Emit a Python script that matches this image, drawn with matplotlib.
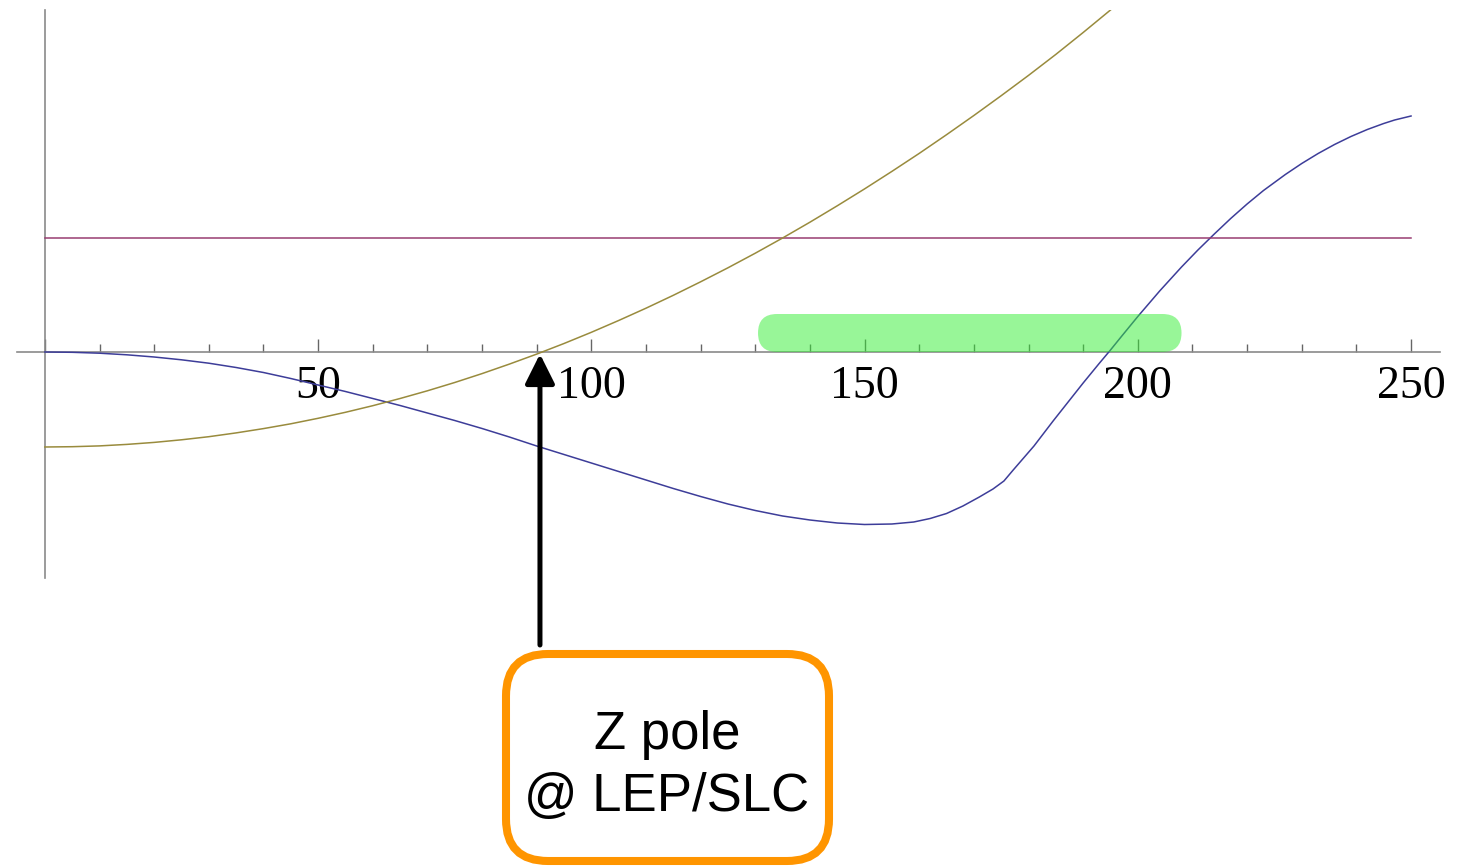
import numpy as np
import matplotlib.pyplot as plt
import matplotlib.patches as mpatches
from matplotlib.transforms import IdentityTransform

# energy (GeV) axis samples
x_blue = [0, 5, 10, 15, 20, 25, 30, 35, 40, 45, 50, 55, 60, 65, 70, 75, 80,
          85, 90, 95, 100, 105, 110, 115, 120, 125, 130, 135, 140, 145, 150,
          155, 159, 162, 165, 168, 171, 173.5, 175.5, 177.2, 181, 184.5, 190,
          193, 195, 197, 200, 204, 208, 211, 214, 217, 220, 223, 227, 230, 233,
          236, 239, 242, 245, 247, 250]
y_blue = [0, -0.3, -1.2, -2.8, -5, -7.8, -11.2, -15.5, -20.5, -26.5, -33,
          -39.5, -46.5, -53.5, -61, -68.5, -76.5, -85, -94, -102.5, -111,
          -119.5, -128, -136.5, -144.5, -152, -158.5, -164, -168, -171, -172.5,
          -172, -170, -166.5, -161.5, -154, -145, -137, -129, -118, -94, -69,
          -31, -11, 2, 15.5, 35.5, 61, 85, 102, 118, 133.5, 148, 161.5, 177.5,
          188.5, 198.5, 207.5, 215.5, 222.5, 228.5, 232, 236]

x_olive = [0, 5, 10, 15, 20, 25, 30, 35, 40, 45, 50, 55, 60, 65, 70, 75, 80,
           85, 90, 95, 100, 105, 110, 115, 120, 125, 130, 135, 140, 145, 150,
           155, 160, 165, 170, 175, 180, 185, 190, 195, 200]
y_olive = [-95, -94.7, -93.9, -92.4, -90.4, -87.8, -84.7, -80.9, -76.6, -71.8,
           -66.3, -60.3, -53.7, -46.5, -38.8, -30.5, -21.6, -12.1, -2.1, 8.5,
           19.7, 31.5, 43.8, 56.7, 70.2, 84.2, 98.8, 114.0, 129.8, 146.2, 163.1,
           180.6, 198.6, 217.3, 236.5, 256.3, 276.6, 297.6, 319.5, 342, 365]

x_purple = [0, 250]
y_purple = [114, 114]

band_lo, band_hi, band_h = 130.5, 208, 38   # green band
z_pole = 90.6
tick_labels = ['50', '100', '150', '200', '250']

W, H = 1458, 867
fig = plt.figure(figsize=(W / 100, H / 100), dpi=100)
ax = fig.add_axes([17 / W, 1 - 578 / H, (1440 - 17) / W, (578 - 10) / H])
ax.set_xlim(-5.1, 255.3)
ax.set_ylim(-226, 342)

ax.plot(x_blue, y_blue, color='#3D3D99', lw=1.1, zorder=3)
ax.plot(x_purple, y_purple, color='#993D71', lw=1.1, zorder=3)
ax.plot(x_olive, y_olive, color='#998B3D', lw=1.1, zorder=3)

# rounded green band, aspect-corrected
fig.canvas.draw()
px_per_x = ax.transData.transform((1, 0))[0] - ax.transData.transform((0, 0))[0]
px_per_y = ax.transData.transform((0, 1))[1] - ax.transData.transform((0, 0))[1]
r = (band_h / 2) * px_per_y / px_per_x
band = mpatches.FancyBboxPatch((band_lo, 0), band_hi - band_lo, band_h,
                               boxstyle=f'round,pad=0,rounding_size={r}',
                               mutation_aspect=px_per_x / px_per_y,
                               fc='#33ee33', ec='none', alpha=0.5, zorder=4)
ax.add_patch(band)

for s in ['top', 'right']:
    ax.spines[s].set_visible(False)
ax.spines['left'].set_position(('data', 0))
ax.spines['bottom'].set_position(('data', 0))
for s in ['left', 'bottom']:
    ax.spines[s].set_color('#8a8a8a')
    ax.spines[s].set_linewidth(1.2)

ax.set_yticks([])
ax.set_xticks(np.arange(0, 251, 50))
ax.set_xticklabels([''] + tick_labels, family='Liberation Serif', fontsize=33)
ax.set_xticks(np.arange(0, 251, 10), minor=True)
ax.tick_params(axis='x', which='major', direction='in', length=9.5, width=1.0,
               color='#666666', pad=10)
ax.tick_params(axis='x', which='minor', direction='in', length=5.8, width=1.0,
               color='#666666')

ax.annotate('', xy=(z_pole, -2), xytext=(z_pole, -293),
            arrowprops=dict(arrowstyle='-|>,head_length=0.4,head_width=0.2',
                            mutation_scale=45, lw=3.6, color='black',
                            shrinkA=0, shrinkB=0),
            annotation_clip=False, zorder=5)

box = mpatches.FancyBboxPatch((506, H - 861), 323, 207,
                              boxstyle='round,pad=0,rounding_size=42',
                              transform=IdentityTransform(), fc='white',
                              ec='#FF9500', lw=5.8)
fig.add_artist(box)
fig.text(667 / W, 1 - 766 / H, 'Z pole\n@ LEP/SLC', ha='center', va='center',
         family='Liberation Sans', fontsize=38, linespacing=1.33)

fig.savefig('out.png', dpi=100)
